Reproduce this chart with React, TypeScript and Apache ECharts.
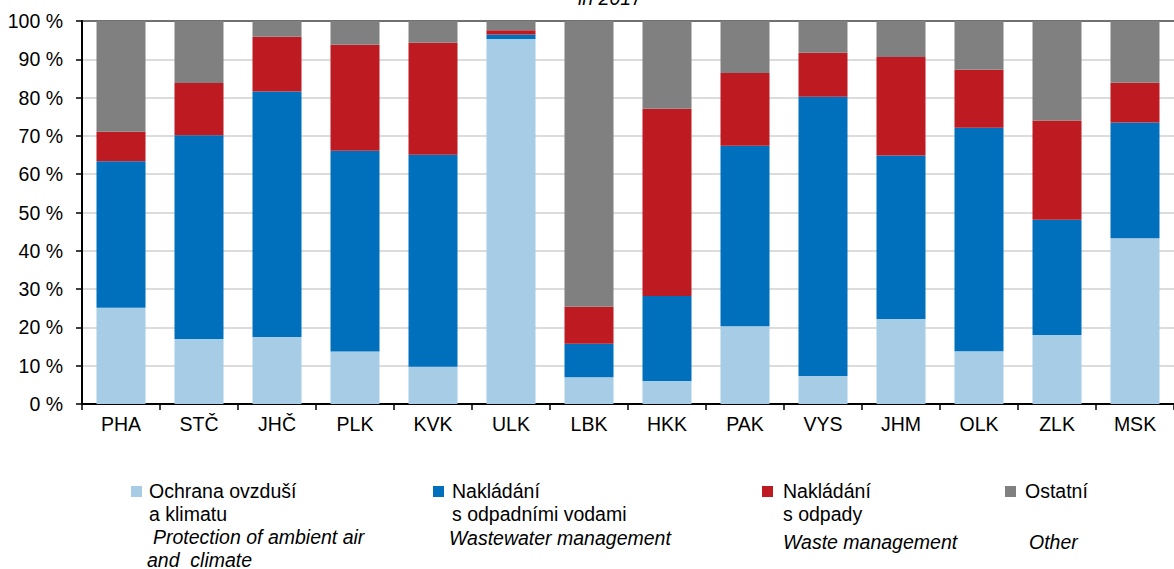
import React, { useEffect, useRef } from "react";
import * as echarts from "echarts";

const regions = ["PHA", "STČ", "JHČ", "PLK", "KVK", "ULK", "LBK", "HKK", "PAK", "VYS", "JHM", "OLK", "ZLK", "MSK"];
const airClimate = [25.1, 17.0, 17.5, 13.7, 9.7, 95.3, 7.0, 6.0, 20.3, 7.3, 22.2, 13.8, 18.0, 43.3];
const wastewater = [38.3, 53.2, 64.1, 52.4, 55.4, 1.2, 8.7, 22.2, 47.1, 72.9, 42.7, 58.3, 30.1, 30.2];
const waste = [7.7, 13.6, 14.3, 27.7, 29.2, 1.1, 9.7, 48.9, 19.0, 11.5, 25.7, 15.2, 25.9, 10.4];
const other = [28.9, 16.2, 4.1, 6.2, 5.7, 2.4, 74.6, 22.9, 13.6, 8.3, 9.4, 12.7, 26.0, 16.1];

const seriesNames = ["Ochrana ovzduší a klimatu", "Nakládání s odpadními vodami", "Nakládání s odpady", "Ostatní"];
const colors = ["#A6CCE6", "#0070BD", "#BE1A22", "#808080"];

const legendCz = [["Ochrana ovzduší", "a klimatu"], ["Nakládání", "s odpadními vodami"], ["Nakládání", "s odpady"], ["Ostatní"]];
const legendEn = [["Protection of ambient air", "and  climate"], ["Wastewater management"], ["Waste management"], ["Other"]];

const FONT = "'Liberation Sans', Arial, sans-serif";
const FS = 19.5;

export default function App() {
  const ref = useRef<HTMLDivElement>(null);
  useEffect(() => {
    document.body.style.margin = "0";
    const chart = echarts.init(ref.current!, null, { renderer: "svg" });
    const data = [airClimate, wastewater, waste, other];

    const legendSq = [{ x: 131, y: 486 }, { x: 433, y: 486 }, { x: 762, y: 486 }, { x: 1005, y: 486 }];
    const czX = [149, 452, 783, 1025];
    const enX = [153, 449, 783, 1029];
    const enBase = [544, 545, 549, 549];
    const off = FS * 0.35;

    const graphics: any[] = [];
    graphics.push({
      type: "text", x: 578, y: 5 - off,
      style: { text: "in 2017", font: `italic ${FS}px ${FONT}`, fill: "#000", verticalAlign: "middle" },
    });
    for (let i = 0; i < 4; i++) {
      graphics.push({ type: "rect", shape: { x: legendSq[i].x, y: legendSq[i].y, width: 11, height: 11 }, style: { fill: colors[i] } });
      legendCz[i].forEach((t, j) => {
        graphics.push({
          type: "text", x: czX[i], y: 498 + j * 22.5 - off,
          style: { text: t, font: `${FS}px ${FONT}`, fill: "#000", verticalAlign: "middle" },
        });
      });
      legendEn[i].forEach((t, j) => {
        graphics.push({
          type: "text", x: enX[i] - (j === 1 ? 6 : 0), y: enBase[i] + j * 23 - off,
          style: { text: t, font: `italic ${FS}px ${FONT}`, fill: "#000", verticalAlign: "middle" },
        });
      });
    }

    const splitColors = ["#d0d0d0", "#d0d0d0", "#d0d0d0", "#d0d0d0", "#d0d0d0", "#d0d0d0", "#d0d0d0", "#d0d0d0", "#d0d0d0", "#d0d0d0", "#404040"];

    chart.setOption({
      animation: false,
      textStyle: { fontFamily: FONT },
      grid: { left: 82, top: 21, width: 1106, height: 383, containLabel: false },
      xAxis: {
        type: "category",
        data: regions,
        axisLine: { lineStyle: { color: "#000", width: 2 } },
        axisTick: { show: true, length: 6, lineStyle: { color: "#000", width: 1.5 } },
        axisLabel: { color: "#000", fontSize: FS, fontFamily: FONT, margin: 10, interval: 0 },
      },
      yAxis: {
        type: "value",
        min: 0,
        max: 100,
        interval: 10,
        axisLine: { show: true, lineStyle: { color: "#000", width: 2 } },
        axisTick: { show: true, length: 6, lineStyle: { color: "#000", width: 1.5 } },
        axisLabel: { color: "#000", fontSize: FS, fontFamily: FONT, margin: 19, formatter: "{value} %" },
        splitLine: { show: true, lineStyle: { color: splitColors, width: 1.5 } },
      },
      series: data.map((d, i) => ({
        name: seriesNames[i],
        type: "bar",
        stack: "total",
        data: d,
        barWidth: 49,
        itemStyle: { color: colors[i] },
      })),
      graphic: graphics,
    });
    return () => chart.dispose();
  }, []);
  return <div ref={ref} style={{ width: 1174, height: 569 }} />;
}
